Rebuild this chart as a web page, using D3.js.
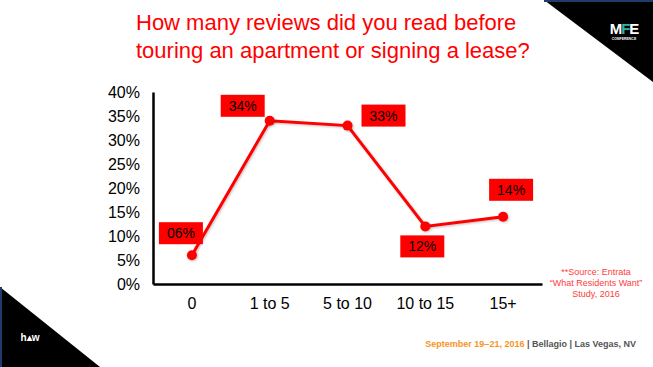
<!DOCTYPE html>
<html><head><meta charset="utf-8">
<script src="https://cdn.jsdelivr.net/npm/d3@7"></script>
<style>body{margin:0;background:#fff}svg{display:block}</style>
</head><body>
<script>
const categories = ["0", "1 to 5", "5 to 10", "10 to 15", "15+"];
const values = [0.06, 0.34, 0.33, 0.12, 0.14];
const valueLabels = ["06%", "34%", "33%", "12%", "14%"];
const yTicks = [0, 0.05, 0.10, 0.15, 0.20, 0.25, 0.30, 0.35, 0.40];
const titleLines = ["How many reviews did you read before", "touring an apartment or signing a lease?"];
const sourceLines = ["**Source: Entrata", "\u201cWhat Residents Want\u201d", "Study, 2016"];

const W = 653, H = 367;
const svg = d3.select("body").append("svg").attr("width", W).attr("height", H);
const font = "Liberation Sans, Arial, sans-serif";

// decorative corners
svg.append("path").attr("d", `M544,0 L${W},0 L${W},82 Z`).attr("fill", "#000");
svg.append("rect").attr("x", 544).attr("y", 0).attr("width", W - 544).attr("height", 2).attr("fill", "#1f3b6b");
svg.append("path").attr("d", `M0,287 L0,${H} L100,${H} Z`).attr("fill", "#000");
svg.append("rect").attr("x", 0).attr("y", 287).attr("width", 2).attr("height", H - 287).attr("fill", "#1f3b6b");

// MFE logo
const logo = svg.append("text").attr("x", 624).attr("y", 34).attr("text-anchor", "middle")
  .attr("font-family", font).attr("font-weight", "bold").attr("font-size", 15).attr("letter-spacing", -1);
logo.append("tspan").attr("fill", "#fff").text("M");
logo.append("tspan").attr("fill", "#2bb5a8").text("F");
logo.append("tspan").attr("fill", "#fff").text("E");
svg.append("text").attr("x", 624).attr("y", 40).attr("text-anchor", "middle").attr("fill", "#fff")
  .attr("font-family", font).attr("font-size", 3.5).attr("font-weight", "bold").text("CONFERENCE");

// h^w logo
svg.append("text").attr("x", 30).attr("y", 341).attr("text-anchor", "middle").attr("fill", "#fff")
  .attr("font-family", font).attr("font-weight", "bold").attr("font-size", 10).text("h\u25B4w");

// title
svg.append("g").selectAll("text").data(titleLines).join("text")
  .attr("x", 136).attr("y", (d, i) => 30 + i * 28).attr("text-anchor", "start")
  .attr("fill", "#ff0000").attr("font-family", font).attr("font-size", 22).text(d => d);

// scales
const x = d3.scaleBand().domain(categories).range([153, 542]);
const y = d3.scaleLinear().domain([0, 0.4]).range([284, 92]);

// axes
const yAxis = svg.append("g").attr("transform", "translate(153,0)")
  .call(d3.axisLeft(y).tickValues(yTicks).tickFormat(d3.format(".0%")).tickSize(0).tickPadding(13));
yAxis.select(".domain").attr("stroke", "#000").attr("stroke-width", 2.5);
yAxis.selectAll("text").attr("font-family", font).attr("font-size", 16).attr("fill", "#000");

const xAxis = svg.append("g").attr("transform", "translate(0,284)")
  .call(d3.axisBottom(x).tickSize(0).tickPadding(14));
xAxis.select(".domain").attr("stroke", "#000").attr("stroke-width", 2.5);
xAxis.selectAll("text").attr("font-family", font).attr("font-size", 16).attr("fill", "#000");

// shadow filter
const defs = svg.append("defs");
const f = defs.append("filter").attr("id", "sh").attr("x", "-20%").attr("y", "-20%").attr("width", "140%").attr("height", "140%");
f.append("feDropShadow").attr("dx", 1).attr("dy", 1).attr("stdDeviation", 1).attr("flood-color", "#000").attr("flood-opacity", 0.25);

const cx = d => x(d) + x.bandwidth() / 2;
const pts = categories.map((c, i) => ({ c, v: values[i], l: valueLabels[i] }));

svg.append("path").datum(pts)
  .attr("d", d3.line().x(d => cx(d.c)).y(d => y(d.v)))
  .attr("fill", "none").attr("stroke", "#ff0000").attr("stroke-width", 3).attr("filter", "url(#sh)");
svg.append("g").selectAll("circle").data(pts).join("circle")
  .attr("cx", d => cx(d.c)).attr("cy", d => y(d.v)).attr("r", 5)
  .attr("fill", "#ff0000").attr("filter", "url(#sh)");

// label boxes (offsets relative to point)
const offsets = [[-11, -22], [-27, -15], [36, -10], [-3, 20], [8, -27]];
const lg = svg.append("g").selectAll("g").data(pts).join("g")
  .attr("transform", (d, i) => `translate(${cx(d.c) + offsets[i][0]},${y(d.v) + offsets[i][1]})`);
lg.append("rect").attr("x", -22).attr("y", -11).attr("width", 44).attr("height", 22).attr("fill", "#ff0000");
lg.append("text").attr("text-anchor", "middle").attr("dy", "0.35em")
  .attr("font-family", font).attr("font-size", 14).attr("fill", "#000").text(d => d.l);

// source
svg.append("g").selectAll("text").data(sourceLines).join("text")
  .attr("x", 596).attr("y", (d, i) => 275 + i * 11).attr("text-anchor", "middle")
  .attr("fill", "#ff3b3b").attr("font-family", font).attr("font-size", 9).text(d => d);

// footer
const ft = svg.append("text").attr("x", 636).attr("y", 347).attr("text-anchor", "end")
  .attr("font-family", font).attr("font-weight", "bold").attr("font-size", 9);
ft.append("tspan").attr("fill", "#f7941d").text("September 19\u201321, 2016 ");
ft.append("tspan").attr("fill", "#555").text("| Bellagio | Las Vegas, NV");
</script>
</body></html>
